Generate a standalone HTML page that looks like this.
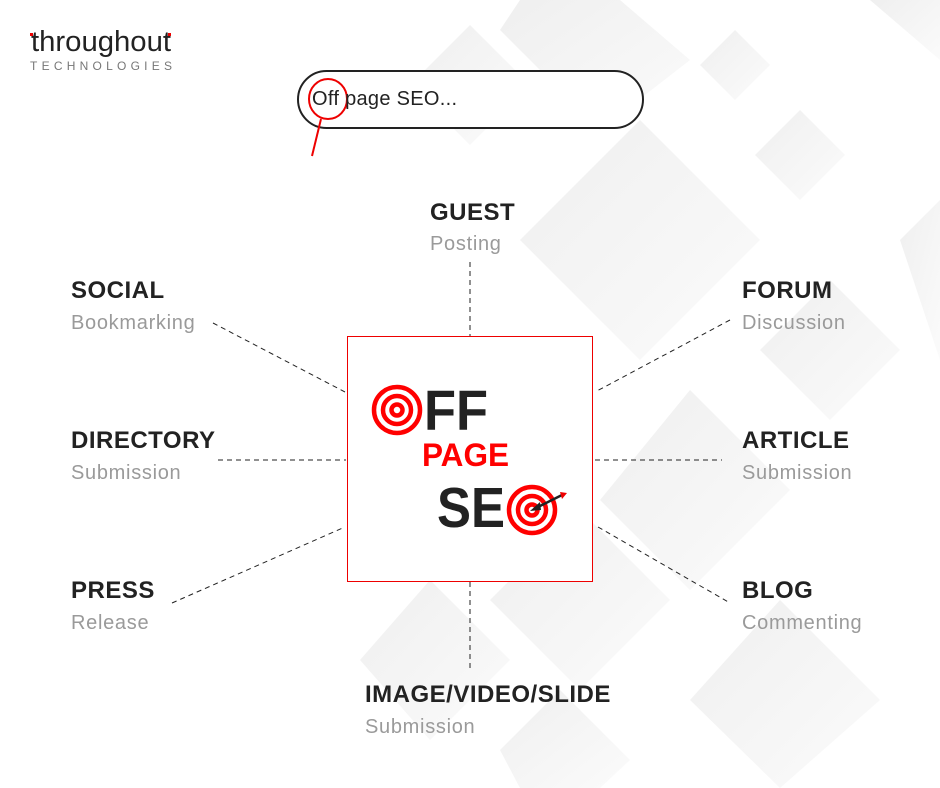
<!DOCTYPE html>
<html><head><meta charset="utf-8"><style>
body{margin:0;width:940px;height:788px;background:#fff;position:relative;overflow:hidden;font-family:"Liberation Sans",sans-serif}
.l{position:absolute;line-height:1}
.t{font-weight:bold;font-size:24px;color:#222;letter-spacing:0.5px}
.s{font-size:20px;color:#9a9a9a;letter-spacing:0.7px}
</style></head><body>
<svg width="940" height="788" style="position:absolute;left:0;top:0">
<defs><linearGradient id="g" x1="0" y1="0" x2="1" y2="1"><stop offset="0" stop-color="#efefef"/><stop offset="1" stop-color="#fbfbfb"/></linearGradient></defs>
<g fill="url(#g)">
<polygon points="470,25 530,85 470,145 410,85"/>
<polygon points="735,30 770,65 735,100 700,65"/>
<polygon points="800,110 845,155 800,200 755,155"/>
<polygon points="520,0 620,0 690,60 600,130 500,30"/>
<polygon points="640,120 760,240 640,360 520,240"/>
<polygon points="830,280 900,350 830,420 760,350"/>
<polygon points="900,240 940,200 940,360"/>
<polygon points="690,390 790,490 690,590 600,500"/>
<polygon points="580,510 670,600 580,690 490,600"/>
<polygon points="430,580 510,660 430,740 360,660"/>
<polygon points="780,600 880,700 780,788 690,700"/>
<polygon points="560,690 630,760 600,788 520,788 500,750"/>
<polygon points="870,0 940,0 940,60"/>
</g>
<g stroke="#222" stroke-width="1" stroke-dasharray="5,4" fill="none">
<line x1="470" y1="262" x2="470" y2="336"/>
<line x1="470" y1="582" x2="470" y2="668"/>
<line x1="213" y1="323" x2="345" y2="392"/>
<line x1="218" y1="460" x2="346" y2="460"/>
<line x1="172" y1="603" x2="345" y2="527"/>
<line x1="730" y1="320" x2="595" y2="392"/>
<line x1="595" y1="460" x2="722" y2="460"/>
<line x1="598" y1="527" x2="730" y2="603"/>
</g>
<rect x="347.5" y="336.5" width="245" height="245" fill="#fff" stroke="#e00" stroke-width="1"/>
<rect x="298" y="71" width="345" height="57" rx="28.5" fill="#fff" stroke="#222" stroke-width="2"/>
<ellipse cx="328" cy="99" rx="19" ry="20" fill="none" stroke="#e00" stroke-width="2"/>
<line x1="321" y1="119" x2="312" y2="156" stroke="#e00" stroke-width="2"/>
<g fill="none" stroke="#f00" stroke-width="4.5">
<circle cx="397" cy="410" r="23"/><circle cx="397" cy="410" r="14"/><circle cx="397" cy="410" r="5.5"/>
<circle cx="532" cy="510" r="23"/><circle cx="532" cy="510" r="14"/><circle cx="532" cy="510" r="5.5"/>
</g>
<line x1="534" y1="509" x2="562" y2="495" stroke="#222" stroke-width="2.5"/>
<polygon points="530,511 540,502 541,510" fill="#222"/>
<polygon points="560,492 567,493 562,499" fill="#e00"/>
<text x="424" y="430" font-family="Liberation Sans" font-weight="bold" font-size="57" fill="#222" textLength="64" lengthAdjust="spacingAndGlyphs">FF</text>
<text x="422" y="466" font-family="Liberation Sans" font-weight="bold" font-size="32" fill="#f00" textLength="87" lengthAdjust="spacingAndGlyphs">PAGE</text>
<text x="437" y="527" font-family="Liberation Sans" font-weight="bold" font-size="57" fill="#222" textLength="68" lengthAdjust="spacingAndGlyphs">SE</text>
<text x="31" y="51" font-family="Liberation Sans" font-size="29" fill="#222" textLength="140" lengthAdjust="spacingAndGlyphs">throughout</text>
<rect x="30" y="33" width="3" height="3" fill="#e00"/><rect x="168" y="33" width="3" height="3" fill="#e00"/>
<text x="30" y="70" font-family="Liberation Sans" font-size="12" fill="#777" textLength="142" lengthAdjust="spacing">TECHNOLOGIES</text>
</svg>
<div class="l" style="left:312px;top:89px;font-size:20px;color:#222;letter-spacing:0.3px">Off page SEO...</div>
<div class="l t" style="left:430px;top:201px">GUEST</div><div class="l s" style="left:430px;top:234px">Posting</div>
<div class="l t" style="left:71px;top:279px">SOCIAL</div><div class="l s" style="left:71px;top:313px">Bookmarking</div>
<div class="l t" style="left:742px;top:279px">FORUM</div><div class="l s" style="left:742px;top:313px">Discussion</div>
<div class="l t" style="left:71px;top:429px">DIRECTORY</div><div class="l s" style="left:71px;top:463px">Submission</div>
<div class="l t" style="left:742px;top:429px">ARTICLE</div><div class="l s" style="left:742px;top:463px">Submission</div>
<div class="l t" style="left:71px;top:579px">PRESS</div><div class="l s" style="left:71px;top:613px">Release</div>
<div class="l t" style="left:742px;top:579px">BLOG</div><div class="l s" style="left:742px;top:613px">Commenting</div>
<div class="l t" style="left:365px;top:683px">IMAGE/VIDEO/SLIDE</div><div class="l s" style="left:365px;top:717px">Submission</div>
</body></html>
